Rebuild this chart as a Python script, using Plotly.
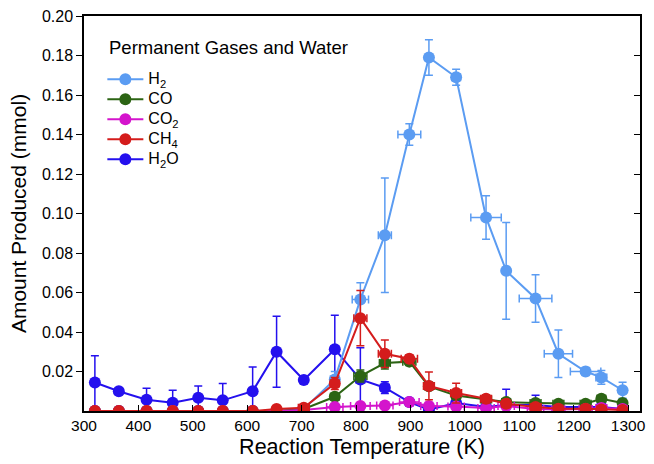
import plotly.graph_objects as go

# ---------------- data ----------------
temps = [320, 364, 415, 463, 510, 555, 610, 654, 704, 761, 808, 853, 898, 934,
         984, 1039, 1076, 1130, 1172, 1222, 1251, 1290]

h2 = [0, 0, 0, 0, 0, 0, 0, 0, 0.001, 0.016, 0.0565, 0.089, 0.140, 0.179,
      0.169, 0.098, 0.071, 0.057, 0.029, 0.020, 0.017, 0.0105]
h2_err = [0, 0, 0, 0, 0, 0, 0, 0, 0.001, 0.004, 0.0085, 0.029, 0.0055, 0.009,
          0.004, 0.011, 0.0245, 0.012, 0.012, 0.002, 0.0035, 0.004]
h2_terr = [0, 0, 0, 0, 0, 0, 0, 0, 3, 8, 15, 12, 21, 6, 8, 28, 6, 30, 26, 28, 10, 5]

co = [0, 0, 0, 0, 0, 0, 0, 0, 0.001, 0.0072, 0.0177, 0.0243, 0.025, 0.0125,
      0.0078, 0.0058, 0.0045, 0.004, 0.0037, 0.0037, 0.0062, 0.004]
co_err = [0, 0, 0, 0, 0, 0, 0, 0, 0.0005, 0.0015, 0.003, 0.003, 0.002, 0.002,
          0.0015, 0.001, 0.001, 0.001, 0.001, 0.001, 0.001, 0.001]
co_terr = [0, 0, 0, 0, 0, 0, 0, 0, 5, 8, 12, 10, 12, 8, 8, 10, 8, 10, 10, 10, 8, 6]

co2 = [0, 0, 0, 0, 0, 0, 0, 0, 0.0005, 0.002, 0.0025, 0.0028, 0.0045, 0.0025,
       0.0023, 0.0015, 0.0025, 0.001, 0.0008, 0.001, 0.0015, 0.001]
co2_err = [0, 0, 0, 0, 0, 0, 0, 0, 0.0005, 0.001, 0.001, 0.001, 0.001, 0.001,
           0.001, 0.001, 0.001, 0.0005, 0.0005, 0.0005, 0.0005, 0.0005]
co2_terr = [0, 0, 0, 0, 0, 0, 0, 0, 10, 15, 18, 15, 18, 15, 15, 15, 15, 15, 12, 12, 10, 8]

ch4 = [0, 0, 0, 0, 0, 0, 0, 0.001, 0.0017, 0.0139, 0.047, 0.029, 0.0265, 0.0127,
       0.0091, 0.0062, 0.0037, 0.002, 0.0012, 0.0012, 0.0008, 0.0005]
ch4_err = [0, 0, 0, 0, 0, 0, 0, 0, 0.0005, 0.003, 0.014, 0.007, 0.002, 0.007,
           0.005, 0.002, 0.001, 0.001, 0.0005, 0.0005, 0.0005, 0.0005]
ch4_terr = [0, 0, 0, 0, 0, 0, 0, 5, 10, 8, 12, 12, 15, 10, 10, 10, 8, 10, 8, 8, 8, 6]

h2o = [0.0144, 0.010, 0.0057, 0.0042, 0.0067, 0.0054, 0.010, 0.030, 0.0157, 0.0313,
       0.016, 0.0118, 0.0045, 0.0007, 0.004, 0.002, 0.003, 0.003, 0.002, 0.002,
       0.002, 0.001]
h2o_err = [0.0136, 0, 0.0058, 0.0063, 0.006, 0.0085, 0.0123, 0.018, 0.001, 0.0172,
           0.016, 0.003, 0.001, 0.001, 0.006, 0.002, 0.008, 0.005, 0.002, 0.001,
           0.001, 0.001]
h2o_terr = [0, 0, 0, 0, 0, 0, 0, 6, 6, 7, 8, 8, 5, 3, 3, 3, 3, 3, 3, 3, 3, 3]

y_ticks = [0.02, 0.04, 0.06, 0.08, 0.10, 0.12, 0.14, 0.16, 0.18, 0.20]
x_ticks = [300, 400, 500, 600, 700, 800, 900, 1000, 1100, 1200, 1300]

legend_title = "Permanent Gases and Water"

series = [
    ("H<sub>2</sub>O", h2o, h2o_err, h2o_terr, "#2410EE", 5),
    ("H<sub>2</sub>", h2, h2_err, h2_terr, "#5B9CF2", 1),
    ("CO", co, co_err, co_terr, "#2C6414", 2),
    ("CO<sub>2</sub>", co2, co2_err, co2_terr, "#D414CC", 3),
    ("CH<sub>4</sub>", ch4, ch4_err, ch4_terr, "#D41C1C", 4),
]

FONT = "Arial, Liberation Sans, sans-serif"

fig = go.Figure()
for name, ys, yerr, terr, color, rank in series:
    fig.add_trace(go.Scatter(
        x=temps, y=ys, name='<span style="font-size:16px">' + name + '</span>',
        mode="lines+markers", legendrank=rank,
        line=dict(color=color, width=2),
        marker=dict(color=color, size=12),
        error_y=dict(type="data", array=yerr, color=color, thickness=1.5, width=4),
        error_x=dict(type="data", array=terr, color=color, thickness=1.5, width=4),
        cliponaxis=True,
    ))

# invisible trace on the right axis so inward right ticks are drawn
fig.add_trace(go.Scatter(x=[300], y=[0], yaxis="y2", mode="markers",
                         marker=dict(opacity=0), showlegend=False, hoverinfo="skip"))

fig.add_annotation(
    text=legend_title, xref="paper", yref="paper", x=0.041, y=0.921,
    xanchor="left", yanchor="middle", showarrow=False,
    font=dict(size=18.5, family=FONT, color="black"),
)

fig.update_layout(
    width=654, height=464,
    margin=dict(l=84, r=8, t=16, b=53),
    paper_bgcolor="white", plot_bgcolor="white",
    font=dict(family=FONT, color="black", size=16),
    legend=dict(
        x=0.033, y=0.878, xanchor="left", yanchor="top",
        bgcolor="rgba(0,0,0,0)",
        font=dict(size=13.1, family=FONT),
        tracegroupgap=0, itemwidth=36,
    ),
    xaxis=dict(
        range=[300, 1322], tickvals=x_ticks, ticks="inside", ticklen=6,
        tickwidth=1.2, tickcolor="black",
        showline=True, linecolor="black", linewidth=1.5, mirror=True,
        showgrid=False, zeroline=False,
        tickfont=dict(size=15.5, family=FONT),
        title=dict(text="Reaction Temperature (K)", font=dict(size=21.5, family=FONT),
                   standoff=6),
    ),
    yaxis=dict(
        range=[0, 0.2], tickvals=y_ticks, tickformat=".2f", ticks="outside",
        ticklen=6, tickwidth=1.2, tickcolor="black",
        showline=True, linecolor="black", linewidth=1.5, mirror=True,
        showgrid=False, zeroline=False,
        tickfont=dict(size=16, family=FONT),
        title=dict(text="Amount Produced (mmol)", font=dict(size=21, family=FONT),
                   standoff=10),
        ticklabelstandoff=0,
    ),
    yaxis2=dict(
        range=[0, 0.2], tickvals=y_ticks, overlaying="y", side="right",
        ticks="inside", ticklen=6, tickwidth=1.2, tickcolor="black",
        showticklabels=False, showgrid=False, zeroline=False, showline=False,
    ),
)

fig.write_html("out.html")
